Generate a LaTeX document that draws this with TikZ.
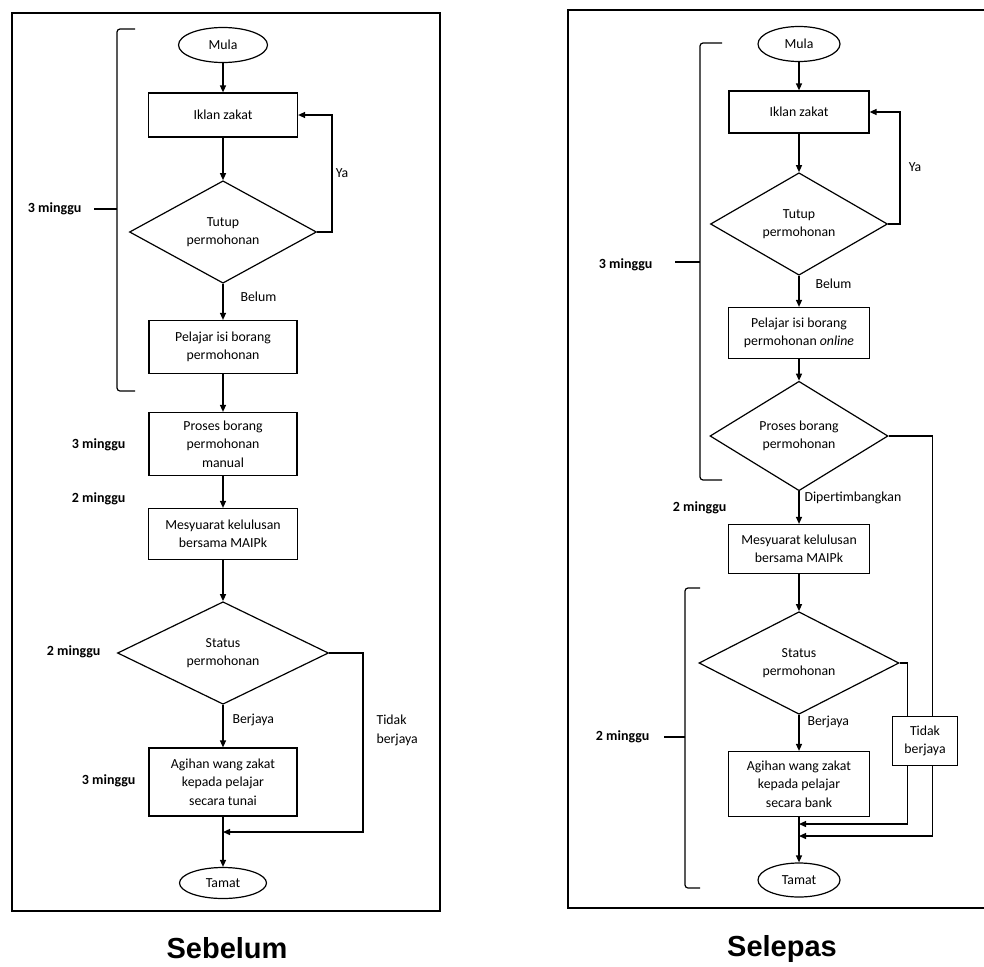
\documentclass[tikz,border=0pt]{standalone}
\usepackage{fontspec}
\setmainfont{Carlito}
\newfontfamily\captionfont{Liberation Sans}
\usetikzlibrary{shapes.geometric,arrows.meta}

\tikzset{
  box/.style={draw, rectangle, align=center, inner sep=0pt, line width=1.2pt, fill=white},
  decision/.style={draw, diamond, align=center, inner sep=0pt, line width=1.2pt},
  terminal/.style={draw, ellipse, inner sep=0pt, line width=1.2pt},
  arr/.style={line width=1.3pt, -{Triangle[length=7pt,width=6pt]}},
  link/.style={line width=1.3pt},
  lbl/.style={font=\fontsize{13.8}{19}\selectfont, align=left},
  weeks/.style={font=\fontsize{14}{17}\selectfont\bfseries},
  caption/.style={font=\fontsize{29}{34}\selectfont\captionfont\bfseries, inner sep=0pt, anchor=base},
  bracket/.style={line width=1.2pt, rounded corners=3pt},
  frame/.style={line width=2pt},
}

\begin{document}
\begin{tikzpicture}[x=1pt, y=-1pt, font=\fontsize{13.8}{18.5}\selectfont]
  \useasboundingbox (0,0) rectangle (984,966);

  % Sebelum: frame and nodes
  \draw[frame] (12,13) rectangle (440,911);
  \node[terminal, minimum width=89, minimum height=35] (mulaL) at (223,45) {Mula};
  \node[box, minimum width=149, minimum height=44] (iklanL) at (223,115) {Iklan zakat};
  \node[decision, minimum width=187, minimum height=93] (tutupL) at (223,232) {Tutup\\permohonan};
  \node[box, minimum width=148, minimum height=53] (pelajarL) at (223,347) {Pelajar isi borang\\permohonan};
  \node[box, minimum width=148, minimum height=63] (prosesL) at (223,444) {Proses borang\\permohonan\\manual};
  \node[box, minimum width=149, minimum height=51] (mesyL) at (223,534) {Mesyuarat kelulusan\\bersama MAIPk};
  \node[decision, minimum width=211, minimum height=97] (statusL) at (223,653) {Status\\permohonan};
  \node[box, minimum width=148, minimum height=68] (agihL) at (223,782) {Agihan wang zakat\\kepada pelajar\\secara tunai};
  \node[terminal, minimum width=87, minimum height=31] (tamatL) at (223,883) {Tamat};
  \coordinate (joinL) at (223,832);

  % Sebelum: connectors
  \draw[arr] (mulaL) -- (iklanL);
  \draw[arr] (iklanL) -- (tutupL);
  \draw[arr] (tutupL.east) -- ++(15,0) |- (iklanL.east);
  \draw[arr] (tutupL) -- (pelajarL);
  \draw[arr] (pelajarL) -- (prosesL);
  \draw[arr] (prosesL) -- (mesyL);
  \draw[arr] (mesyL) -- (statusL);
  \draw[arr] (statusL) -- (agihL);
  \draw[arr] (statusL.east) -- ++(34,0) |- (joinL);
  \draw[arr] (agihL) -- (tamatL);

  % Sebelum: labels
  \node[lbl] (yaL) at (342,173) {Ya};
  \node[lbl, anchor=west] (belumL) at (237,297) {Belum};
  \node[lbl, anchor=west] (berjayaL) at (229,720) {Berjaya};
  \node[lbl, anchor=west] (tidakL) at (373,730) {Tidak\\berjaya};
  \draw[bracket] (135,29) -- (117,29) -- (117,391) -- (135,391);
  \draw[bracket] (117,209) -- (94,209);
  \node[weeks, anchor=east] (w1L) at (85,209) {3 minggu};
  \node[weeks, anchor=east] (w2L) at (129,445) {3 minggu};
  \node[weeks, anchor=east] (w3L) at (129,499) {2 minggu};
  \node[weeks, anchor=east] (w4L) at (104,652) {2 minggu};
  \node[weeks, anchor=east] (w5L) at (139,781) {3 minggu};
  \node[caption] (sebelum) at (227,958) {Sebelum};

  % Selepas: frame and nodes
  \draw[frame] (984,10) -- (568,10) -- (568,908) -- (984,908);
  \node[terminal, minimum width=82, minimum height=35] (mulaR) at (799,44) {Mula};
  \node[box, minimum width=140, minimum height=42] (iklanR) at (799,112) {Iklan zakat};
  \node[decision, minimum width=177, minimum height=89] (tutupR) at (799,224) {Tutup\\permohonan};
  \node[box, minimum width=141, minimum height=51] (pelajarR) at (799,333) {Pelajar isi borang\\permohonan \textit{online}};
  \node[decision, minimum width=178, minimum height=86] (prosesR) at (799,436) {Proses borang\\permohonan};
  \node[box, minimum width=141, minimum height=49] (mesyR) at (799,549) {Mesyuarat kelulusan\\bersama MAIPk};
  \node[decision, minimum width=200, minimum height=92] (statusR) at (799,663) {Status\\permohonan};
  \node[box, minimum width=141, minimum height=65] (agihR) at (799,784) {Agihan wang zakat\\kepada pelajar\\secara bank};
  \node[terminal, minimum width=82, minimum height=34] (tamatR) at (799,880) {Tamat};
  \coordinate (join1R) at (799,824);
  \coordinate (join2R) at (799,836);

  % Selepas: connectors
  \draw[arr] (mulaR) -- (iklanR);
  \draw[arr] (iklanR) -- (tutupR);
  \draw[arr] (tutupR.east) -- ++(12,0) |- (iklanR.east);
  \draw[arr] (tutupR) -- (pelajarR);
  \draw[arr] (pelajarR) -- (prosesR);
  \draw[arr] (prosesR) -- (mesyR);
  \draw[arr] (prosesR.east) -- ++(44,0) |- (join2R);
  \draw[arr] (mesyR) -- (statusR);
  \draw[arr] (statusR) -- (agihR);
  \draw[arr] (statusR.east) -- ++(8,0) |- (join1R);
  \draw[arr] (agihR) -- (tamatR);
  \node[box, minimum width=65, minimum height=49] (tidakR) at (925,741) {Tidak\\berjaya};

  % Selepas: labels
  \node[lbl] (yaR) at (915,167) {Ya};
  \node[lbl, anchor=west] (belumR) at (812,284) {Belum};
  \node[lbl, anchor=west] (dipertR) at (801,498) {Dipertimbangkan};
  \node[lbl, anchor=west] (berjayaR) at (804,722) {Berjaya};
  \draw[bracket] (722,43) -- (700,43) -- (700,480) -- (722,480);
  \draw[bracket] (700,262) -- (675,262);
  \draw[bracket] (700,588) -- (685,588) -- (685,888) -- (700,888);
  \draw[bracket] (685,737) -- (664,737);
  \node[weeks, anchor=east] (w1R) at (656,265) {3 minggu};
  \node[weeks, anchor=east] (w2R) at (730,508) {2 minggu};
  \node[weeks, anchor=east] (w3R) at (653,737) {2 minggu};
  \node[caption] (selepas) at (782,956) {Selepas};
\end{tikzpicture}
\end{document}
